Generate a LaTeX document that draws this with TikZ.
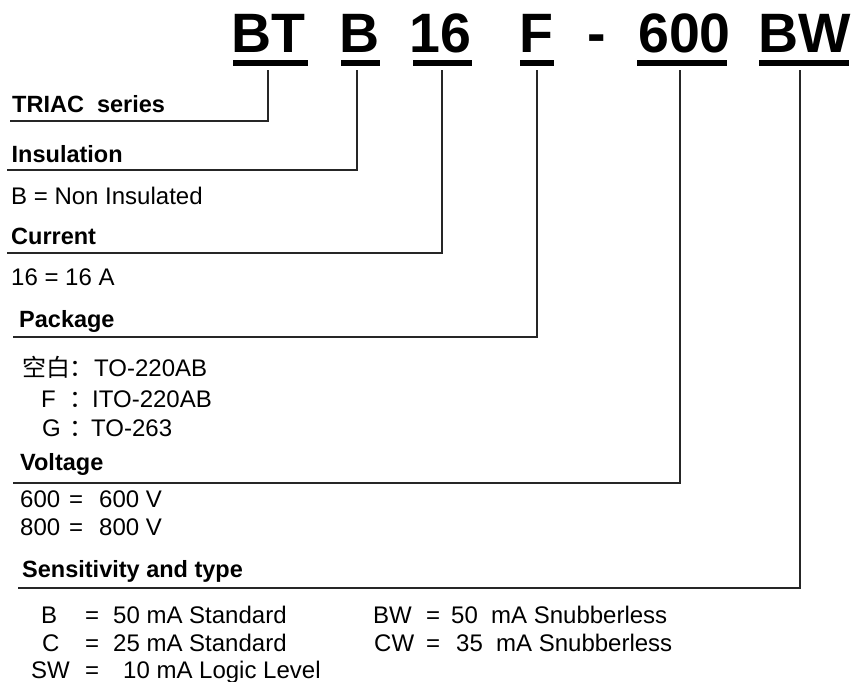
\documentclass[tikz,border=0pt]{standalone}
\usepackage{fontspec}
\setmainfont{Liberation Sans}
\newfontfamily\cjk{Noto Sans CJK SC}
\begin{document}
\begin{tikzpicture}[x=1pt,y=-1pt]
\tikzset{
  txt/.style={inner sep=0pt, anchor=base west, font=\fontsize{24}{28}\selectfont},
  hd/.style={inner sep=0pt, anchor=base west, font=\fontsize{23.5}{27}\selectfont\bfseries},
  ttl/.style={inner sep=0pt, anchor=base west, font=\fontsize{55.5}{60}\selectfont\bfseries},
  conn/.style={line width=1.5pt, draw=black!85},
  uline/.style={line width=5.5pt, draw=black},
}
\useasboundingbox (0,0) rectangle (851,682);
\fill[white] (0,0) rectangle (851,682);
% title
\node[ttl] (tBT) at (231,53) {BT};
\node[ttl] (tB) at (339,53) {B};
\node[ttl] (t16) at (409,53) {16};
\node[ttl] (tF) at (519,53) {F};
\node[ttl] (tdash) at (587,53) {-};
\node[ttl] (t600) at (638,53) {600};
\node[ttl] (tBW) at (758,53) {BW};
% underlines
\coordinate (uBTa) at (233,63); \coordinate (uBTb) at (308,63);
\coordinate (uBa) at (341,63); \coordinate (uBb) at (380,63);
\coordinate (u16a) at (413,63); \coordinate (u16b) at (472,63);
\coordinate (uFa) at (520,63); \coordinate (uFb) at (554,63);
\coordinate (u600a) at (637,63); \coordinate (u600b) at (727,63);
\coordinate (uBWa) at (759,63); \coordinate (uBWb) at (849,63);
\draw[uline] (uBTa) -- (uBTb);
\draw[uline] (uBa) -- (uBb);
\draw[uline] (u16a) -- (u16b);
\draw[uline] (uFa) -- (uFb);
\draw[uline] (u600a) -- (u600b);
\draw[uline] (uBWa) -- (uBWb);
% connector tops
\coordinate (cBT) at (268,70);
\coordinate (cB) at (357,70);
\coordinate (c16) at (442,70);
\coordinate (cF) at (537,70);
\coordinate (c600) at (680,70);
\coordinate (cBW) at (800,70);
% heading line starts
\coordinate (lTriac) at (10,121);
\coordinate (lIns) at (7,170);
\coordinate (lCur) at (7,253);
\coordinate (lPack) at (13,337);
\coordinate (lVolt) at (13,483);
\coordinate (lSens) at (18,588);
\draw[conn] (lTriac) -| (cBT);
\draw[conn] (lIns) -| (cB);
\draw[conn] (lCur) -| (c16);
\draw[conn] (lPack) -| (cF);
\draw[conn] (lVolt) -| (c600);
\draw[conn] (lSens) -| (cBW);
% headings and texts
\node[hd] (hTriac) at (12,113) {TRIAC\ \ series};
\node[hd] (hIns) at (11.5,162) {Insulation};
\node[txt] (tIns) at (11,204) {B = Non Insulated};
\node[hd] (hCur) at (11,244) {Current};
\node[txt] (tCur) at (11,285) {16 = 16 A};
\node[hd] (hPack) at (19,327) {Package};
\node[txt] (p1a) at (22,376) {\cjk 空白};
\node[txt] (p1b) at (69,376) {\cjk ：};
\node[txt] (p1c) at (94,376) {TO-220AB};
\node[txt] (p2a) at (41,407) {F};
\node[txt] (p2b) at (69,407) {\cjk ：};
\node[txt] (p2c) at (92,407) {ITO-220AB};
\node[txt] (p3a) at (42,436) {G};
\node[txt] (p3b) at (69,436) {\cjk ：};
\node[txt] (p3c) at (91,436) {TO-263};
\node[hd] (hVolt) at (20,470) {Voltage};
\node[txt] (v1a) at (20,507) {600};
\node[txt] (v1b) at (69,507) {=};
\node[txt] (v1c) at (99,507) {600 V};
\node[txt] (v2a) at (20,535) {800};
\node[txt] (v2b) at (69,535) {=};
\node[txt] (v2c) at (99,535) {800 V};
\node[hd] (hSens) at (22,577) {Sensitivity and type};
\node[txt] (s1a) at (41,623) {B};
\node[txt] (s1b) at (85,623) {=};
\node[txt] (s1c) at (113,623) {50 mA Standard};
\node[txt] (s2a) at (42,651) {C};
\node[txt] (s2b) at (85,651) {=};
\node[txt] (s2c) at (113,651) {25 mA Standard};
\node[txt] (s3a) at (31,678) {SW};
\node[txt] (s3b) at (85,678) {=};
\node[txt] (s3c) at (123,678) {10 mA Logic Level};
\node[txt] (s4a) at (373,623) {BW};
\node[txt] (s4b) at (426,623) {=};
\node[txt] (s4c) at (451,623) {50};
\node[txt] (s4d) at (491,623) {mA Snubberless};
\node[txt] (s5a) at (374,651) {CW};
\node[txt] (s5b) at (426,651) {=};
\node[txt] (s5c) at (456,651) {35};
\node[txt] (s5d) at (496,651) {mA Snubberless};
\end{tikzpicture}
\end{document}
